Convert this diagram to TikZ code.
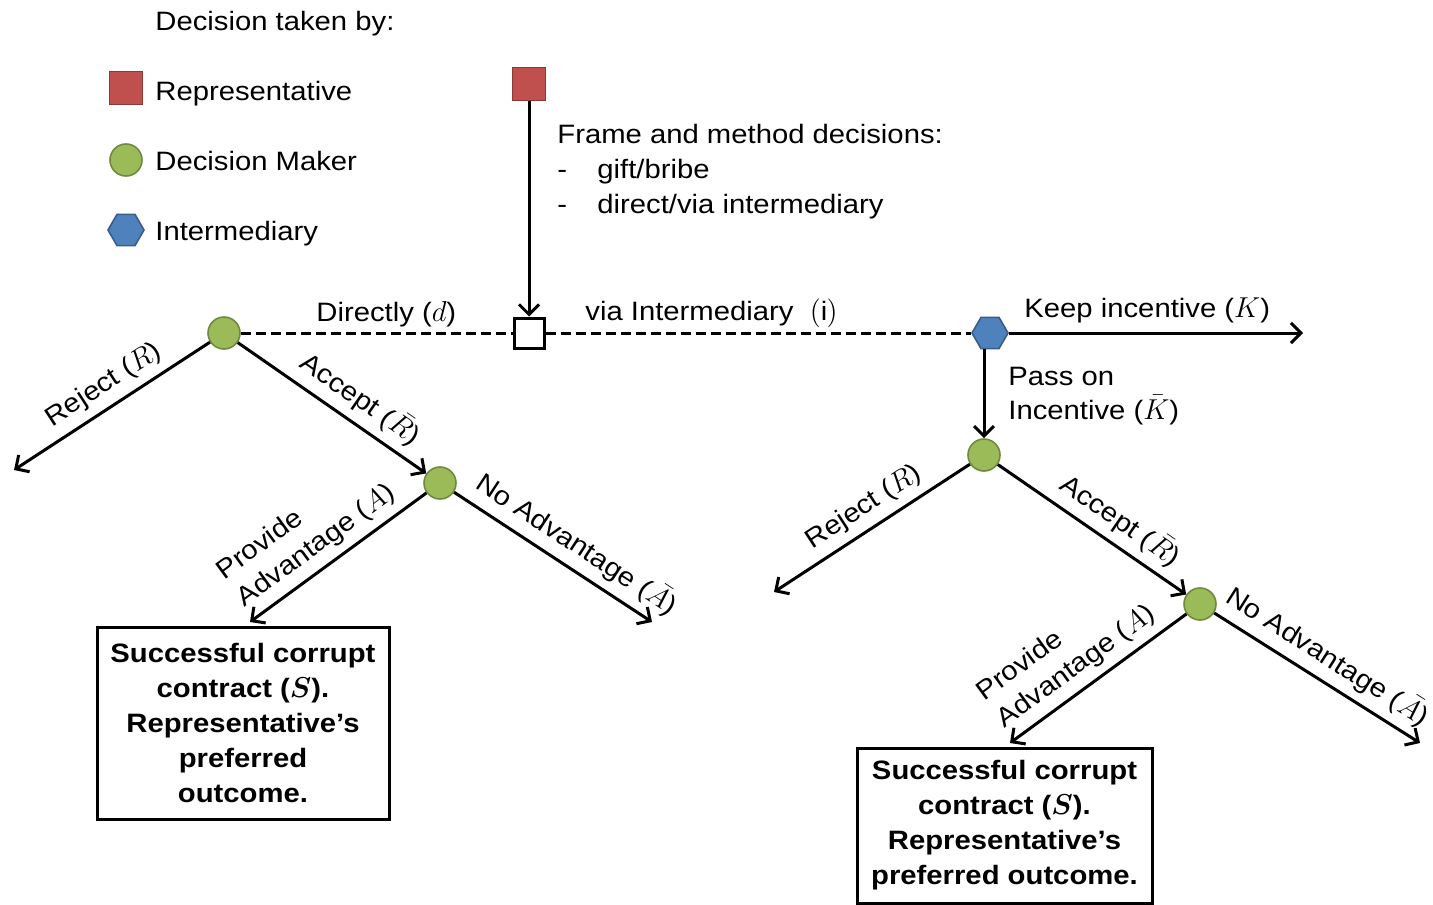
\documentclass[tikz,border=0pt]{standalone}
\usepackage{fontspec}
\setmainfont{Liberation Sans}[FakeStretch=1.1]
\usetikzlibrary{arrows.meta,shapes.geometric}
\definecolor{repfill}{HTML}{C0504D}
\definecolor{repline}{HTML}{8C3836}
\definecolor{dmfill}{HTML}{9BBB59}
\definecolor{dmline}{HTML}{71893F}
\definecolor{imfill}{HTML}{4F81BD}
\definecolor{imline}{HTML}{385D8A}
\begin{document}
\begin{tikzpicture}[x=0.5pt,y=-0.5pt,
  every node/.style={font=\fontsize{13.3}{17}\selectfont},
  rep/.style={rectangle, fill=repfill, draw=repline, line width=0.8pt, minimum size=16.5pt, inner sep=0pt},
  dm/.style={circle, fill=dmfill, draw=dmline, line width=0.8pt, minimum size=16pt, inner sep=0pt},
  imd/.style={regular polygon, regular polygon sides=6, fill=imfill, draw=imline, line width=0.8pt, minimum size=18pt, inner sep=0pt},
  chance/.style={rectangle, fill=white, draw=black, line width=1.5pt, minimum size=15pt, inner sep=0pt},
  branch/.style={line width=1.5pt, -{Straight Barb[length=5pt,width=10pt]}},
  link/.style={line width=1.5pt, dash pattern=on 5pt off 2.5pt},
  txt/.style={anchor=base west, inner sep=0pt},
  lbl/.style={sloped, above=3pt, inner sep=1pt, align=left},
  outcome/.style={draw, line width=1.5pt, align=center, inner sep=0pt,
    font=\bfseries\boldmath\fontsize{13.3}{17.5}\selectfont}
]
\useasboundingbox (0,0) rectangle (1433,904);

% legend
\node[txt] (legtitle) at (155,31) {Decision taken by:};
\node[rep] (legrep) at (126,88) {};
\node[txt] (legreptxt) at (155,100) {Representative};
\node[dm] (legdm) at (126,160) {};
\node[txt] (legdmtxt) at (155,170) {Decision Maker};
\node[imd] (legim) at (126,230) {};
\node[txt] (legimtxt) at (155,240) {Intermediary};

% decision nodes
\node[rep] (r0) at (529,84) {};
\node[chance] (c0) at (529,333) {};
\node[dm] (g1) at (224,333) {};
\node[imd] (h1) at (990,333) {};
\node[dm] (g2) at (984,455) {};
\node[dm] (g3) at (440,483) {};
\node[dm] (g4) at (1200,604) {};

% outcome boxes
\node[outcome, minimum width=146pt, minimum height=96pt] (s1) at (243,723)
  {Successful corrupt\\contract ($S$).\\Representative’s\\preferred\\outcome.};
\node[outcome, minimum width=147.5pt, minimum height=77.5pt] (s2) at (1004.5,825.5)
  {Successful corrupt\\contract ($S$).\\Representative’s\\preferred outcome.};

% free ends of branches
\coordinate (e1) at (14,470);
\coordinate (e2) at (250,622);
\coordinate (e3) at (652,622);
\coordinate (e4) at (1303,333);
\coordinate (e5) at (774,592);
\coordinate (e6) at (1010,743);
\coordinate (e7) at (1420,743);

% frame and method choice
\draw[branch] (r0) -- (c0);
\node[txt] (frame1) at (557,143) {Frame\ and\ method\ decisions:};
\node[txt] (frame2) at (557,178) {-};
\node[txt] (frame2t) at (597,178) {gift/bribe};
\node[txt] (frame3) at (557,213) {-};
\node[txt] (frame3t) at (597,213) {direct/via intermediary};
\draw[link] (g1) -- (c0);
\draw[link] (c0) -- (h1);
\node[txt] (dlab) at (316,321) {Directly ($d$)};
\node[txt] (ilab) at (585,320) {via Intermediary\ \ $(\mathrm{i})$};

% intermediary
\draw[branch] (h1) -- (e4);
\node[txt] (klab) at (1024,317) {Keep incentive ($K$)};
\draw[branch] (h1.south -| g2.north) -- (g2.north);
\node[txt] (kblab1) at (1008,385) {Pass on};
\node[txt] (kblab2) at (1008,419) {Incentive ($\bar{K}$)};

% direct branch
\draw[branch] (g1) -- node[lbl, pos=0.48] {Reject ($R$)} (e1);
\draw[branch] (g1) -- node[lbl, pos=0.58] {Accept ($\bar{R}$)} (g3);
\draw[branch] (g3) -- node[lbl, pos=0.55] {Provide\\Advantage ($A$)} (e2);
\draw[branch] (g3) -- node[lbl, pos=0.555] {No Advantage ($\bar{A}$)} (e3);

% branch via intermediary
\draw[branch] (g2) -- node[lbl, pos=0.48] {Reject ($R$)} (e5);
\draw[branch] (g2) -- node[lbl, pos=0.58] {Accept ($\bar{R}$)} (g4);
\draw[branch] (g4) -- node[lbl, pos=0.55] {Provide\\Advantage ($A$)} (e6);
\draw[branch] (g4) -- node[lbl, pos=0.49] {No Advantage ($\bar{A}$)} (e7);
\end{tikzpicture}
\end{document}
